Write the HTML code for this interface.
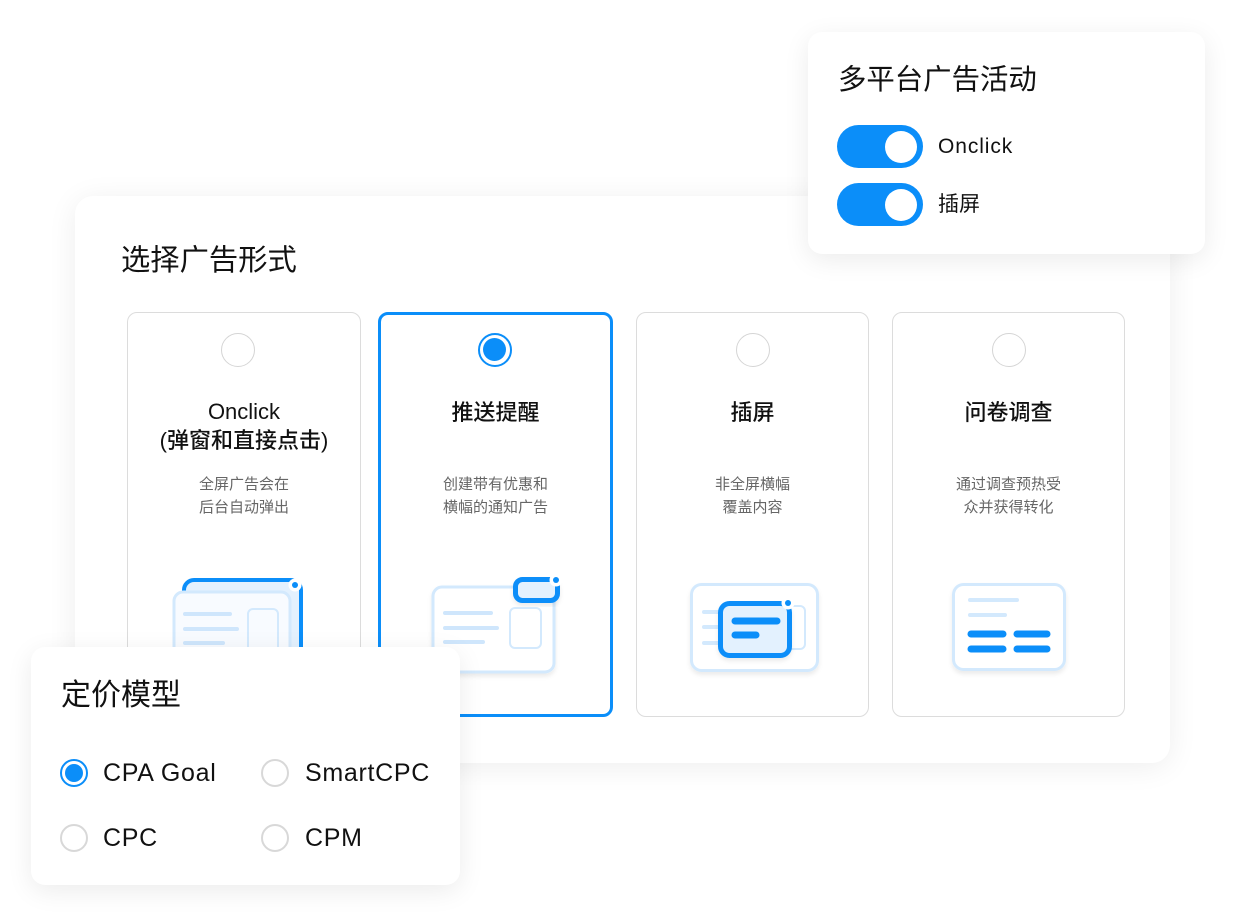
<!DOCTYPE html>
<html><head><meta charset="utf-8">
<style>
*{margin:0;padding:0;box-sizing:border-box}
html,body{width:1236px;height:917px;background:#fff;overflow:hidden}
body{position:relative;font-family:"Liberation Sans","Noto Sans CJK SC",sans-serif;color:#111}
.abs{position:absolute}
.panel{position:absolute;background:#fff}
.main{left:75px;top:196px;width:1095px;height:567px;border-radius:18px;box-shadow:0 4px 30px rgba(0,0,0,0.07)}
.card{position:absolute;top:312px;height:405px;border:1.5px solid #dcdcdc;border-radius:10px;background:#fff}
.sel{border:3px solid #0b8ef9}
.rad{position:absolute;top:333px;width:34px;height:34px;border-radius:50%;border:1.5px solid #d5d5d5;background:#fff}
.ctitle{position:absolute;text-align:center;font-size:22px;line-height:30px;font-weight:500;color:#111;white-space:nowrap}
.desc{position:absolute;text-align:center;font-size:15px;line-height:23px;color:#666;white-space:nowrap}
.h{position:absolute;font-size:28px;line-height:34px;color:#111;white-space:nowrap}
.tog{position:absolute;left:837px;width:86px;height:43px;border-radius:22px;background:#0b8ef9}
.knob{position:absolute;left:48px;top:5.5px;width:32px;height:32px;border-radius:50%;background:#fff}
.tl{position:absolute;left:938px;font-size:21px;line-height:30px;white-space:nowrap}
.pr{position:absolute;width:28px;height:28px;border-radius:50%;border:2px solid #d8d8d8;background:#fff}
.pl{position:absolute;font-size:25px;line-height:34px;white-space:nowrap;letter-spacing:0.7px}
</style></head><body>

<div class="panel main"></div>
<div class="h" style="left:121px;top:244px;font-size:29.3px">选择广告形式</div>

<div class="card" style="left:127px;width:234px"></div>
<div class="card sel" style="left:378px;width:235px"></div>
<div class="card" style="left:636px;width:233px"></div>
<div class="card" style="left:892px;width:233px"></div>

<div class="rad" style="left:221px"></div>
<div class="rad" style="left:478px;border:2.5px solid #0b8ef9"><div style="position:absolute;left:3px;top:3px;width:23px;height:23px;border-radius:50%;background:#0b8ef9"></div></div>
<div class="rad" style="left:736px"></div>
<div class="rad" style="left:992px"></div>

<div class="ctitle" style="left:127px;width:234px;top:397px">Onclick</div>
<div class="ctitle" style="left:127px;width:234px;top:426px">(弹窗和直接点击)</div>
<div class="ctitle" style="left:378px;width:235px;top:398px">推送提醒</div>
<div class="ctitle" style="left:636px;width:233px;top:398px">插屏</div>
<div class="ctitle" style="left:892px;width:233px;top:398px">问卷调查</div>

<div class="desc" style="left:127px;width:234px;top:473px">全屏广告会在<br>后台自动弹出</div>
<div class="desc" style="left:378px;width:235px;top:473px">创建带有优惠和<br>横幅的通知广告</div>
<div class="desc" style="left:636px;width:233px;top:473px">非全屏横幅<br>覆盖内容</div>
<div class="desc" style="left:892px;width:233px;top:473px">通过调查预热受<br>众并获得转化</div>

<svg class="abs" style="left:0;top:0" width="1236" height="917" viewBox="0 0 1236 917">
 <defs>
  <filter id="sh" x="-20%" y="-20%" width="140%" height="150%"><feDropShadow dx="0" dy="3" stdDeviation="2" flood-color="#000" flood-opacity="0.08"/></filter>
 </defs>
 <!-- card1 -->
 <rect x="184" y="580" width="117" height="100" rx="10" fill="#e3f1fe" stroke="#0b8ef9" stroke-width="4"/>
 <rect x="174" y="592" width="116" height="90" rx="9" fill="#f8fbff" stroke="#d3e9fd" stroke-width="3"/>
 <circle cx="295" cy="585" r="6.5" fill="#fff"/><circle cx="295" cy="585" r="3" fill="#0b8ef9"/>
 <g stroke="#cfe6fc" stroke-width="4" stroke-linecap="round">
  <line x1="185" y1="614" x2="230" y2="614"/><line x1="185" y1="629" x2="237" y2="629"/><line x1="185" y1="643" x2="223" y2="643"/>
 </g>
 <rect x="248" y="609" width="30" height="45" rx="5" fill="none" stroke="#d3e9fd" stroke-width="2"/>
 <!-- card2 -->
 <rect x="433" y="587" width="121" height="85" rx="9" fill="#fff" stroke="#d3e9fd" stroke-width="3" filter="url(#sh)"/>
 <g stroke="#cfe6fc" stroke-width="4" stroke-linecap="round">
  <line x1="445" y1="613" x2="491" y2="613"/><line x1="445" y1="628" x2="497" y2="628"/><line x1="445" y1="642" x2="483" y2="642"/>
 </g>
 <rect x="510" y="608" width="31" height="40" rx="5" fill="none" stroke="#d3e9fd" stroke-width="2"/>
 <rect x="515.5" y="579.5" width="42" height="21" rx="7" fill="#e3f1fe" stroke="#0b8ef9" stroke-width="5" filter="url(#sh)"/>
 <circle cx="556" cy="580" r="6.5" fill="#fff"/><circle cx="556" cy="580" r="3" fill="#0b8ef9"/>
 <!-- card3 -->
 <rect x="691.5" y="584.5" width="126" height="86" rx="10" fill="#fff" stroke="#d3e9fd" stroke-width="3" filter="url(#sh)"/>
 <g stroke="#d3e9fd" stroke-width="4" stroke-linecap="round">
  <line x1="704" y1="612" x2="722" y2="612"/><line x1="704" y1="627" x2="722" y2="627"/><line x1="704" y1="643" x2="722" y2="643"/>
 </g>
 <rect x="780" y="606" width="25" height="43" rx="5" fill="#fff" stroke="#d3e9fd" stroke-width="2"/>
 <rect x="720.5" y="603.5" width="69" height="52" rx="9" fill="#e3f1fe" stroke="#0b8ef9" stroke-width="5" filter="url(#sh)"/>
 <g stroke="#0b8ef9" stroke-width="7" stroke-linecap="round">
  <line x1="735" y1="621" x2="777" y2="621"/><line x1="735" y1="635" x2="756" y2="635"/>
 </g>
 <circle cx="788" cy="603" r="6.5" fill="#fff"/><circle cx="788" cy="603" r="3" fill="#0b8ef9"/>
 <!-- card4 -->
 <rect x="953.5" y="584.5" width="111" height="85" rx="10" fill="#fff" stroke="#d3e9fd" stroke-width="3" filter="url(#sh)"/>
 <g stroke="#d3e9fd" stroke-width="4" stroke-linecap="round">
  <line x1="970" y1="600" x2="1017" y2="600"/><line x1="970" y1="615" x2="1005" y2="615"/>
 </g>
 <g stroke="#0b8ef9" stroke-width="7" stroke-linecap="round">
  <line x1="971" y1="634" x2="1003" y2="634"/><line x1="1017" y1="634" x2="1047" y2="634"/>
  <line x1="971" y1="649" x2="1003" y2="649"/><line x1="1017" y1="649" x2="1047" y2="649"/>
 </g>
</svg>

<!-- top-right panel -->
<div class="panel" style="left:808px;top:32px;width:397px;height:222px;border-radius:14px;box-shadow:0 6px 26px rgba(0,0,0,0.08)"></div>
<div class="h" style="left:838px;top:63px;font-size:28.4px">多平台广告活动</div>
<div class="tog" style="top:125px"><div class="knob"></div></div>
<div class="tog" style="top:183px"><div class="knob"></div></div>
<div class="tl" style="top:132px;letter-spacing:0.9px">Onclick</div>
<div class="tl" style="top:190px">插屏</div>

<!-- pricing panel -->
<div class="panel" style="left:31px;top:647px;width:429px;height:238px;border-radius:14px;box-shadow:0 6px 26px rgba(0,0,0,0.08)"></div>
<div class="h" style="left:61px;top:679px;font-size:30px">定价模型</div>
<div class="pr" style="left:60px;top:759px;border-color:#0b8ef9"><div style="position:absolute;left:3px;top:3px;width:18px;height:18px;border-radius:50%;background:#0b8ef9"></div></div>
<div class="pr" style="left:261px;top:759px"></div>
<div class="pr" style="left:60px;top:824px"></div>
<div class="pr" style="left:261px;top:824px"></div>
<div class="pl" style="left:103px;top:756px">CPA Goal</div>
<div class="pl" style="left:305px;top:756px">SmartCPC</div>
<div class="pl" style="left:103px;top:821px">CPC</div>
<div class="pl" style="left:305px;top:821px">CPM</div>

</body></html>
